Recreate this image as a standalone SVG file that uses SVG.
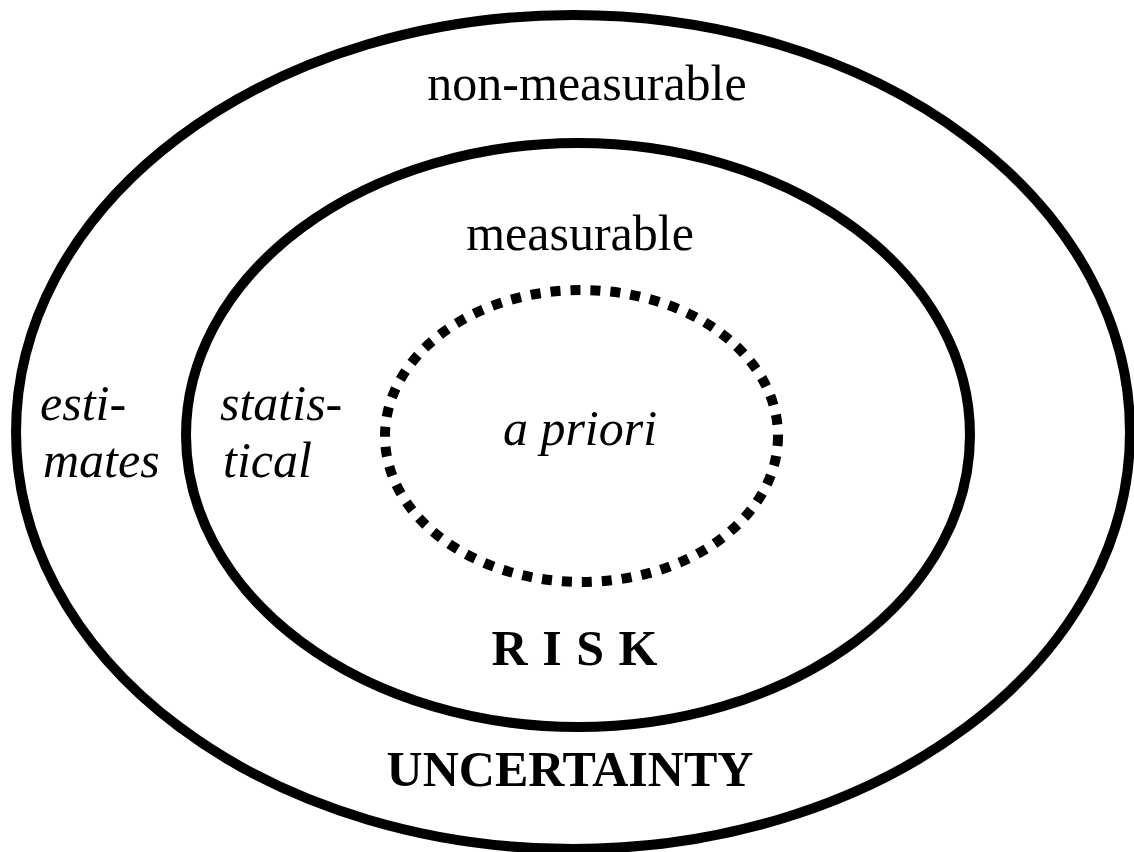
<svg xmlns="http://www.w3.org/2000/svg" width="1134" height="852" viewBox="0 0 1134 852">
<style>
.ring{fill:none;stroke:#000;stroke-width:10}
.dots{fill:none;stroke:#000;stroke-width:10;stroke-dasharray:10 10}
.t{font-family:"Liberation Serif","Times New Roman",serif;font-size:50px;fill:#000}
.i{font-style:italic}
.b{font-weight:bold}
</style>
<rect width="1134" height="852" fill="#fff"/>
<g id="uncertainty">
<ellipse class="ring" cx="573" cy="432" rx="557" ry="417"/>
<text class="t" x="587" y="100" text-anchor="middle">non-measurable</text>
<text class="t i" x="40" y="420">esti-</text>
<text class="t i" x="43" y="477">mates</text>
<text class="t b" x="570" y="786" text-anchor="middle">UNCERTAINTY</text>
</g>
<g id="risk">
<ellipse class="ring" cx="578" cy="435" rx="392" ry="292"/>
<text class="t" x="580" y="250" text-anchor="middle">measurable</text>
<text class="t i" x="220" y="420">statis-</text>
<text class="t i" x="223" y="477">tical</text>
<text class="t b" x="575" y="665" text-anchor="middle" letter-spacing="1">R I S K</text>
</g>
<g id="apriori">
<ellipse class="dots" cx="581.5" cy="436" rx="196.5" ry="146"/>
<text class="t i" x="580" y="445" text-anchor="middle">a priori</text>
</g>
<g id="connectors"/>
</svg>
